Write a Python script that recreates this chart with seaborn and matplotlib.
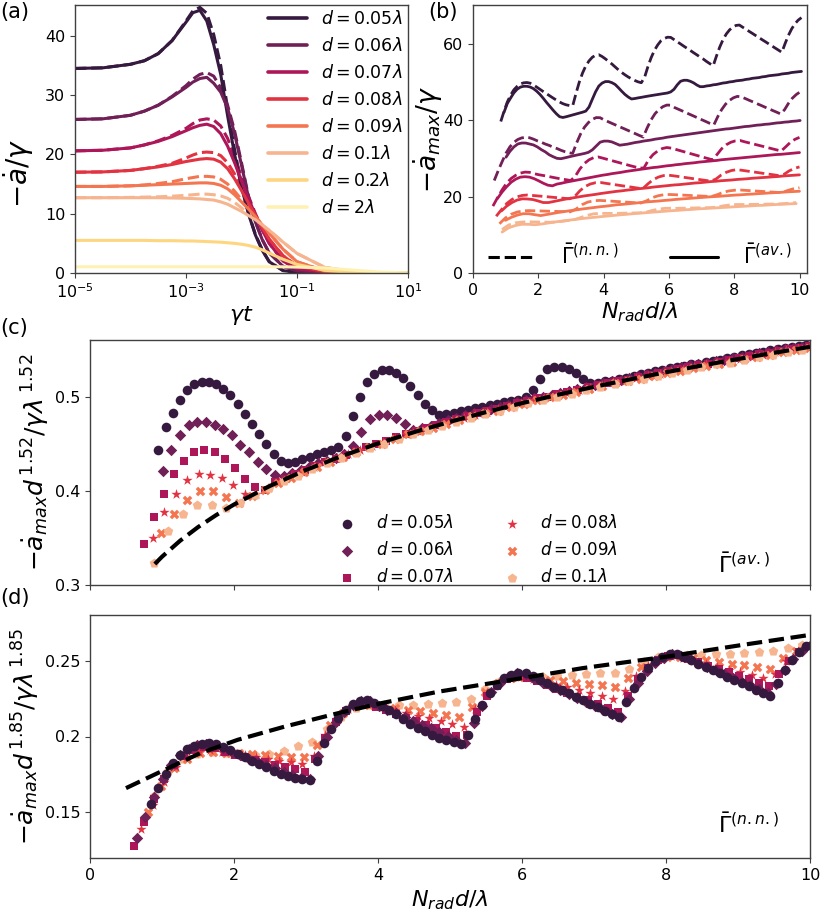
import matplotlib
matplotlib.use('Agg')
import matplotlib.pyplot as plt
import numpy as np
import seaborn as sns
from matplotlib.lines import Line2D
from matplotlib.ticker import NullLocator

# ---------------- panel (a): decay rate vs time ----------------
gamma_t = [1e-5, 3.16e-5, 1e-4, 1.78e-4, 3.16e-4, 5.62e-4, 1e-3, 1.33e-3, 1.78e-3, 2.37e-3,
           3.16e-3, 4.22e-3, 5.62e-3, 7.5e-3, 1e-2, 1.33e-2, 1.78e-2, 2.37e-2, 3.16e-2, 5.62e-2,
           0.1, 0.316, 1.0, 3.16, 10.0]

a_av_005 = [34.5, 34.6, 35.2, 35.8, 37.0, 39.2, 42.3, 43.9, 44.3, 42.5, 38.5, 33.5, 26.5, 20.0, 14.5,
            10.0, 6.4, 3.8, 1.9, 0.4, 0.1, 0.02, 0, 0, 0]
a_nn_005 = [34.5, 34.6, 35.2, 35.8, 37.0, 39.2, 42.5, 44.2, 44.8, 43.8, 40.2, 35.0, 27.8, 20.8, 14.9,
            10.2, 6.5, 3.9, 1.9, 0.4, 0.1, 0.02, 0, 0, 0]
a_av_006 = [25.9, 26.0, 26.6, 27.3, 28.3, 29.7, 31.3, 32.2, 32.8, 33.0, 32.0, 30.5, 27.8, 23.5, 18.2,
            12.8, 8.6, 5.6, 3.4, 1.1, 0.35, 0.05, 0.01, 0, 0]
a_nn_006 = [25.9, 26.0, 26.6, 27.3, 28.3, 29.8, 31.6, 32.7, 33.5, 33.8, 33.2, 31.2, 28.3, 24.0, 18.6,
            13.0, 8.7, 5.6, 3.4, 1.1, 0.35, 0.05, 0.01, 0, 0]
a_av_007 = [20.6, 20.7, 21.1, 21.6, 22.2, 23.0, 24.0, 24.5, 24.9, 25.1, 24.7, 23.5, 21.4, 18.6, 15.5,
            12.6, 9.8, 7.2, 5.0, 2.0, 0.7, 0.1, 0.02, 0, 0]
a_nn_007 = [20.6, 20.7, 21.1, 21.6, 22.3, 23.2, 24.4, 25.2, 25.8, 26.0, 25.8, 24.8, 22.7, 19.6, 16.2,
            13.0, 10.0, 7.3, 5.0, 2.0, 0.7, 0.1, 0.02, 0, 0]
a_av_008 = [17.0, 17.05, 17.3, 17.6, 17.9, 18.3, 18.8, 19.0, 19.2, 19.3, 19.2, 18.7, 17.6, 15.9, 13.9,
            11.8, 9.7, 7.6, 5.7, 2.9, 1.2, 0.2, 0.04, 0.01, 0]
a_nn_008 = [17.0, 17.05, 17.3, 17.6, 18.0, 18.5, 19.4, 19.9, 20.3, 20.4, 20.3, 19.8, 18.6, 16.7, 14.4,
            12.1, 9.9, 7.7, 5.7, 2.9, 1.2, 0.2, 0.04, 0.01, 0]
a_av_009 = [14.6, 14.6, 14.7, 14.8, 14.9, 15.0, 15.1, 15.15, 15.2, 15.2, 15.1, 14.8, 14.2, 13.2, 12.0,
            10.8, 9.5, 8.1, 6.7, 4.0, 1.9, 0.35, 0.07, 0.01, 0]
a_nn_009 = [14.6, 14.6, 14.7, 14.85, 15.1, 15.4, 15.9, 16.1, 16.3, 16.3, 16.2, 15.8, 15.0, 13.8, 12.4,
            11.0, 9.6, 8.1, 6.7, 4.0, 1.9, 0.35, 0.07, 0.01, 0]
a_av_010 = [12.7, 12.7, 12.7, 12.7, 12.7, 12.65, 12.6, 12.55, 12.5, 12.4, 12.3, 12.0, 11.6, 11.0, 10.4,
            9.7, 9.0, 8.1, 7.2, 5.2, 3.3, 0.95, 0.22, 0.05, 0.01]
a_nn_010 = [12.7, 12.7, 12.75, 12.8, 12.85, 12.95, 13.1, 13.2, 13.3, 13.3, 13.2, 13.0, 12.6, 11.9, 11.0,
            10.0, 9.1, 8.1, 7.2, 5.2, 3.3, 0.95, 0.22, 0.05, 0.01]
a_av_020 = [5.5, 5.5, 5.5, 5.5, 5.45, 5.45, 5.4, 5.4, 5.35, 5.3, 5.25, 5.2, 5.1, 5.0, 4.85,
            4.65, 4.35, 3.9, 3.35, 2.3, 1.45, 0.45, 0.1, 0.02, 0]
a_av_200 = [1.05, 1.05, 1.05, 1.05, 1.05, 1.05, 1.05, 1.05, 1.05, 1.05, 1.05, 1.05, 1.05, 1.05, 1.05,
            1.05, 1.05, 1.05, 1.05, 1.04, 1.0, 0.85, 0.5, 0.15, 0.03]

a_labels = [r'$d = 0.05\lambda$', r'$d = 0.06\lambda$', r'$d = 0.07\lambda$', r'$d = 0.08\lambda$',
            r'$d = 0.09\lambda$', r'$d = 0.1\lambda$', r'$d = 0.2\lambda$', r'$d = 2\lambda$']

# ---------------- panels (c)/(d): scaled maximum decay rate ----------------
spacings = [0.05, 0.06, 0.07, 0.08, 0.09, 0.1]

x_c_005 = [0.95, 1.05, 1.15, 1.25, 1.35, 1.45, 1.55, 1.65, 1.75, 1.85, 1.95, 2.05, 2.15, 2.25, 2.35,
           2.45, 2.55, 2.65, 2.75, 2.85, 2.95, 3.05, 3.15, 3.25, 3.35, 3.45, 3.55, 3.65, 3.75, 3.85,
           3.95, 4.05, 4.15, 4.25, 4.35, 4.45, 4.55, 4.65, 4.75, 4.85, 4.95, 5.05, 5.15, 5.25, 5.35,
           5.45, 5.55, 5.65, 5.75, 5.85, 5.95, 6.05, 6.15, 6.25, 6.35, 6.45, 6.55, 6.65, 6.75, 6.85,
           6.95, 7.05, 7.15, 7.25, 7.35, 7.45, 7.55, 7.65, 7.75, 7.85, 7.95, 8.05, 8.15, 8.25, 8.35,
           8.45, 8.55, 8.65, 8.75, 8.85, 8.95, 9.05, 9.15, 9.25, 9.35, 9.45, 9.55, 9.65, 9.75, 9.85,
           9.95, 10.05]
y_c_005 = [0.4435, 0.4677, 0.4826, 0.4968, 0.5068, 0.5128, 0.5150, 0.5150, 0.5130, 0.5085,
           0.5014, 0.4925, 0.4819, 0.4705, 0.4599, 0.4492, 0.4393, 0.4311, 0.4290, 0.4310,
           0.4335, 0.4360, 0.4385, 0.4410, 0.4435, 0.4465, 0.4577, 0.4790, 0.4996, 0.5156,
           0.5238, 0.5280, 0.5280, 0.5250, 0.5200, 0.5110, 0.5014, 0.4925, 0.4854, 0.4800,
           0.4812, 0.4830, 0.4845, 0.4862, 0.4878, 0.4893, 0.4908, 0.4922, 0.4937, 0.4951,
           0.4965, 0.4995, 0.5067, 0.5190, 0.5288, 0.5316, 0.5316, 0.5288, 0.5245, 0.5185, 0.5139,
           0.514, 0.516, 0.517, 0.519, 0.520, 0.522, 0.524, 0.525, 0.527, 0.528,
           0.530, 0.531, 0.532, 0.534, 0.535, 0.537, 0.538, 0.539, 0.541, 0.542,
           0.544, 0.545, 0.546, 0.547, 0.549, 0.550, 0.551, 0.553, 0.554, 0.555, 0.556]

x_c_006 = [1.01, 1.13, 1.25, 1.37, 1.49, 1.61, 1.73, 1.85, 1.97, 2.09, 2.21, 2.33, 2.45, 2.57, 2.69,
           2.81, 2.93, 3.05, 3.17, 3.29, 3.41, 3.53, 3.65, 3.77, 3.89, 4.01, 4.13, 4.25, 4.37, 4.49,
           4.61, 4.73, 4.85, 4.97, 5.09, 5.21, 5.33, 5.45, 5.57, 5.69, 5.81, 5.93, 6.05, 6.17, 6.29,
           6.41, 6.53, 6.65, 6.77, 6.89, 7.01, 7.13, 7.25, 7.37, 7.49, 7.61, 7.73, 7.85, 7.97, 8.09,
           8.21, 8.33, 8.45, 8.57, 8.69, 8.81, 8.93, 9.05, 9.17, 9.29, 9.41, 9.53, 9.65, 9.77, 9.89,
           10.01]
y_c_006 = [0.4215, 0.4428, 0.4588, 0.4695, 0.4730, 0.4730, 0.4695, 0.4660, 0.4588, 0.4490,
           0.4410, 0.4304, 0.4233, 0.4172, 0.4160, 0.4190, 0.4225, 0.4258, 0.4290, 0.4320,
           0.4350, 0.4390, 0.4480, 0.4620, 0.4760, 0.4800, 0.4800, 0.4770, 0.4710, 0.4650,
           0.467, 0.469, 0.472, 0.475, 0.477, 0.480, 0.482, 0.484, 0.487, 0.489,
           0.491, 0.494, 0.496, 0.498, 0.500, 0.502, 0.504, 0.506, 0.508, 0.510,
           0.512, 0.514, 0.516, 0.518, 0.520, 0.522, 0.524, 0.525, 0.527, 0.529,
           0.531, 0.533, 0.534, 0.536, 0.538, 0.539, 0.541, 0.542, 0.544, 0.546,
           0.547, 0.549, 0.550, 0.552, 0.553, 0.555]

x_c_007 = [0.75, 0.89, 1.03, 1.17, 1.31, 1.45, 1.59, 1.73, 1.87, 2.01, 2.15, 2.29, 2.43, 2.57, 2.71,
           2.85, 2.99, 3.13, 3.27, 3.41, 3.55, 3.69, 3.83, 3.97, 4.11, 4.25, 4.39, 4.53, 4.67, 4.81,
           4.95, 5.09, 5.23, 5.37, 5.51, 5.65, 5.79, 5.93, 6.07, 6.21, 6.35, 6.49, 6.63, 6.77, 6.91,
           7.05, 7.19, 7.33, 7.47, 7.61, 7.75, 7.89, 8.03, 8.17, 8.31, 8.45, 8.59, 8.73, 8.87, 9.01,
           9.15, 9.29, 9.43, 9.57, 9.71, 9.85, 9.99]
y_c_007 = [0.343, 0.3725, 0.397, 0.418, 0.432, 0.441, 0.443, 0.441, 0.434, 0.424, 0.413, 0.404, 0.401,
           0.409, 0.413, 0.418, 0.422, 0.426, 0.430, 0.434, 0.438, 0.442, 0.446,
           0.450, 0.453, 0.457, 0.460, 0.463, 0.467, 0.470, 0.473, 0.476, 0.479,
           0.482, 0.485, 0.487, 0.490, 0.493, 0.495, 0.498, 0.500, 0.503, 0.505,
           0.507, 0.510, 0.512, 0.514, 0.516, 0.518, 0.521, 0.523, 0.525, 0.527,
           0.529, 0.531, 0.533, 0.535, 0.537, 0.539, 0.541, 0.543, 0.545, 0.546,
           0.548, 0.550, 0.552, 0.554]

x_c_008 = [0.87, 1.03, 1.19, 1.35, 1.51, 1.67, 1.83, 1.99, 2.15, 2.31, 2.47, 2.63, 2.79, 2.95, 3.11,
           3.27, 3.43, 3.59, 3.75, 3.91, 4.07, 4.23, 4.39, 4.55, 4.71, 4.87, 5.03, 5.19, 5.35, 5.51,
           5.67, 5.83, 5.99, 6.15, 6.31, 6.47, 6.63, 6.79, 6.95, 7.11, 7.27, 7.43, 7.59, 7.75, 7.91,
           8.07, 8.23, 8.39, 8.55, 8.71, 8.87, 9.03, 9.19, 9.35, 9.51, 9.67, 9.83, 9.99]
y_c_008 = [0.3497, 0.377, 0.397, 0.411, 0.418, 0.417, 0.414, 0.406, 0.397, 0.397, 0.403,
           0.409, 0.415, 0.420, 0.425, 0.430, 0.435, 0.439, 0.443, 0.448, 0.452,
           0.456, 0.460, 0.463, 0.467, 0.470, 0.474, 0.477, 0.480, 0.484, 0.487,
           0.490, 0.493, 0.496, 0.498, 0.501, 0.504, 0.507, 0.509, 0.512, 0.515,
           0.517, 0.520, 0.522, 0.524, 0.527, 0.529, 0.531, 0.534, 0.536, 0.538,
           0.540, 0.542, 0.544, 0.547, 0.549, 0.551, 0.553]

x_c_009 = [0.99, 1.17, 1.35, 1.53, 1.71, 1.89, 2.07, 2.25, 2.43, 2.61, 2.79, 2.97, 3.15, 3.33, 3.51,
           3.69, 3.87, 4.05, 4.23, 4.41, 4.59, 4.77, 4.95, 5.13, 5.31, 5.49, 5.67, 5.85, 6.03, 6.21,
           6.39, 6.57, 6.75, 6.93, 7.11, 7.29, 7.47, 7.65, 7.83, 8.01, 8.19, 8.37, 8.55, 8.73, 8.91,
           9.09, 9.27, 9.45, 9.63, 9.81, 9.99]
y_c_009 = [0.355, 0.375, 0.390, 0.3995, 0.3995, 0.393,
           0.387, 0.394, 0.401, 0.408, 0.414, 0.420, 0.425, 0.431, 0.436, 0.441,
           0.446, 0.450, 0.455, 0.460, 0.463, 0.467, 0.471, 0.475, 0.479, 0.482,
           0.485, 0.489, 0.492, 0.496, 0.499, 0.502, 0.505, 0.508, 0.511, 0.514,
           0.516, 0.519, 0.522, 0.525, 0.527, 0.530, 0.532, 0.535, 0.537, 0.540,
           0.542, 0.544, 0.547, 0.549, 0.551]

x_c_010 = [0.89, 1.09, 1.29, 1.49, 1.69, 1.89, 2.09, 2.29, 2.49, 2.69, 2.89, 3.09, 3.29, 3.49, 3.69,
           3.89, 4.09, 4.29, 4.49, 4.69, 4.89, 5.09, 5.29, 5.49, 5.69, 5.89, 6.09, 6.29, 6.49, 6.69,
           6.89, 7.09, 7.29, 7.49, 7.69, 7.89, 8.09, 8.29, 8.49, 8.69, 8.89, 9.09, 9.29, 9.49, 9.69,
           9.89]
y_c_010 = [0.3238, 0.3575, 0.3753, 0.3853, 0.3853, 0.3817,
           0.387, 0.395, 0.403, 0.410, 0.416, 0.423, 0.429, 0.435, 0.440, 0.445,
           0.450, 0.455, 0.460, 0.464, 0.469, 0.473, 0.477, 0.481, 0.485, 0.489,
           0.493, 0.496, 0.500, 0.503, 0.507, 0.510, 0.513, 0.516, 0.519, 0.522,
           0.525, 0.528, 0.531, 0.534, 0.536, 0.539, 0.542, 0.544, 0.547, 0.549]

x_d_005 = [0.85] + x_c_005
y_d_005 = [0.1555, 0.166, 0.1755, 0.1825, 0.188, 0.1915, 0.194, 0.1952, 0.1955, 0.1948,
           0.193, 0.1908, 0.1885, 0.1862, 0.184, 0.1818, 0.1796, 0.1775, 0.1755, 0.1738,
           0.1726, 0.1719, 0.1715, 0.1841, 0.1957, 0.2051, 0.2125, 0.2177, 0.2214, 0.2235,
           0.224, 0.2222, 0.2198, 0.2172, 0.2145, 0.2115, 0.2085, 0.2058, 0.2034, 0.2012,
           0.1993, 0.1976, 0.1962, 0.1953, 0.2008, 0.2116, 0.2209, 0.2284, 0.234, 0.2383,
           0.2406, 0.242, 0.2418, 0.2396, 0.2373, 0.2351, 0.2328, 0.2306, 0.2284, 0.2261,
           0.2239, 0.2216, 0.2195, 0.217, 0.2148, 0.2127, 0.2227, 0.2319, 0.2395, 0.2453,
           0.2495, 0.2524, 0.2541, 0.2545, 0.2523, 0.2502, 0.248, 0.2459, 0.2437, 0.2416,
           0.2394, 0.2373, 0.2351, 0.233, 0.2308, 0.2287, 0.2265, 0.2355, 0.2438, 0.2505,
           0.2558, 0.2595, 0.2621]

x_d_006 = [0.65, 0.77, 0.89] + x_c_006
y_d_006 = [0.133, 0.147, 0.160, 0.1723, 0.1815, 0.1878, 0.192, 0.1943, 0.195, 0.1945,
           0.1925, 0.190, 0.188, 0.1855, 0.1835, 0.181, 0.179, 0.1765, 0.1745, 0.173,
           0.172, 0.187, 0.1998, 0.2096, 0.2163, 0.2209, 0.2235, 0.2233, 0.2202, 0.2177,
           0.2152, 0.2127, 0.2102, 0.2078, 0.2053, 0.2028, 0.2003, 0.1978, 0.1955, 0.2088,
           0.2203, 0.2291, 0.2351, 0.2392, 0.2415, 0.2413, 0.2379, 0.2354, 0.2329, 0.2303,
           0.2278, 0.2253, 0.2227, 0.2202, 0.2177, 0.2151, 0.213, 0.2249, 0.2351, 0.2429,
           0.2483, 0.252, 0.254, 0.2533, 0.2509, 0.2484, 0.246, 0.2435, 0.2411, 0.2386,
           0.2362, 0.2337, 0.2313, 0.2288, 0.2346, 0.2438, 0.2513, 0.2566, 0.2605]

x_d_007 = [0.61] + x_c_007
y_d_007 = [0.128, 0.144, 0.159, 0.172, 0.181, 0.187, 0.191, 0.193, 0.1925, 0.190,
           0.188, 0.1865, 0.1848, 0.1831, 0.1814, 0.1797, 0.1784, 0.1768, 0.1852, 0.199,
           0.2096, 0.2165, 0.2206, 0.222, 0.2197, 0.2173, 0.2149, 0.2125, 0.2101, 0.2077,
           0.2053, 0.203, 0.2006, 0.201, 0.2162, 0.2265, 0.2334, 0.238, 0.240, 0.2388,
           0.2363, 0.2338, 0.2313, 0.2288, 0.2263, 0.2238, 0.2213, 0.2189, 0.2164, 0.2269,
           0.2378, 0.2453, 0.2501, 0.2527, 0.2535, 0.251, 0.2488, 0.2466, 0.2444, 0.2422,
           0.2399, 0.2377, 0.2355, 0.2333, 0.2414, 0.2498, 0.2556, 0.2594]

x_d_008 = [0.71] + x_c_008
y_d_008 = [0.139, 0.155, 0.170, 0.180, 0.1865, 0.190, 0.191, 0.1898, 0.1887, 0.1875,
           0.1864, 0.1852, 0.184, 0.1829, 0.1817, 0.1871, 0.2013, 0.2118, 0.2179, 0.2211,
           0.2215, 0.2195, 0.2176, 0.2157, 0.2138, 0.2119, 0.21, 0.208, 0.2061, 0.2181,
           0.2284, 0.2348, 0.2385, 0.2395, 0.2378, 0.236, 0.2341, 0.2323, 0.2304, 0.2286,
           0.2268, 0.2249, 0.2298, 0.2397, 0.2466, 0.251, 0.253, 0.2515, 0.2496, 0.2478,
           0.246, 0.2441, 0.2423, 0.2405, 0.2386, 0.2412, 0.2498, 0.2561, 0.2598]

x_d_009 = [0.81] + x_c_009
y_d_009 = [0.150, 0.1675, 0.179, 0.1855, 0.189, 0.190, 0.1894, 0.1889, 0.1884, 0.1878,
           0.1873, 0.1868, 0.1862, 0.1944, 0.2077, 0.2158, 0.22, 0.221, 0.22, 0.2188,
           0.2176, 0.2165, 0.2153, 0.2141, 0.2129, 0.2197, 0.2295, 0.2353, 0.2385, 0.239,
           0.2382, 0.2373, 0.2364, 0.2355, 0.2346, 0.2337, 0.2328, 0.2383, 0.2455, 0.2499,
           0.2521, 0.2525, 0.2514, 0.2503, 0.2491, 0.248, 0.2468, 0.2457, 0.2445, 0.2514,
           0.2565, 0.2595]

x_d_010 = x_c_010
y_d_010 = [0.161, 0.1775, 0.1855, 0.1885, 0.1895, 0.189, 0.1885, 0.188, 0.1884, 0.1906,
           0.194, 0.1967, 0.205, 0.213, 0.219, 0.2205, 0.2205, 0.2205, 0.221, 0.2215,
           0.222, 0.2225, 0.225, 0.2315, 0.2365, 0.2395, 0.2395, 0.2395, 0.240, 0.2405,
           0.241, 0.2415, 0.242, 0.2445, 0.249, 0.2525, 0.2535, 0.2535, 0.2538, 0.254,
           0.2545, 0.255, 0.2555, 0.2565, 0.2585, 0.2605]

# fitted power laws (black dashed)
fit_c_x = [0.9, 1.0, 1.25, 1.5, 1.75, 2.0, 2.5, 3.0, 3.5, 4.0, 4.5, 5.0, 5.5, 6.0, 6.5, 7.0, 7.5,
           8.0, 8.5, 9.0, 9.5, 10.0]
fit_c_y = [0.3223, 0.330, 0.3469, 0.3614, 0.3741, 0.3854, 0.4052, 0.4221, 0.4369, 0.4502, 0.4622,
           0.4732, 0.4835, 0.4930, 0.5019, 0.5103, 0.5182, 0.5258, 0.5330, 0.5398, 0.5464, 0.5528]
fit_d_x = [0.5, 0.94, 1.53, 2.05, 2.71, 3.45, 4.04, 4.85, 6.0, 6.84, 8.01, 9.06, 10.0]
fit_d_y = [0.166, 0.1759, 0.189, 0.1978, 0.2066, 0.2154, 0.2219, 0.2296, 0.2384, 0.245, 0.2526,
           0.2603, 0.2669]

sns.set_style('ticks')
plt.rcParams.update({
    'font.family': ['DejaVu Sans'],
    'mathtext.fontset': 'dejavusans',
    'axes.edgecolor': '#404040',
    'axes.linewidth': 1.0,
    'axes.labelcolor': 'black',
    'text.color': 'black',
    'xtick.color': '#404040',
    'ytick.color': '#404040',
    'xtick.labelcolor': 'black',
    'ytick.labelcolor': 'black',
    'xtick.major.size': 3.5,
    'ytick.major.size': 3.5,
    'xtick.labelsize': 11.5,
    'ytick.labelsize': 11.5,
})

pal = sns.color_palette('rocket', 6).as_hex() + ['#fdd67f', '#fef1b3']
markers = ['o', 'D', 's', '*', 'X', 'p']
msizes = [48, 34, 38, 60, 48, 52]

fig = plt.figure(figsize=(8.31, 9.19), dpi=100)
ax_a = fig.add_axes([75 / 831, 1 - 273 / 919, 333 / 831, 268 / 919])
ax_b = fig.add_axes([473 / 831, 1 - 273 / 919, 334 / 831, 268 / 919])
ax_c = fig.add_axes([90 / 831, 1 - 585 / 919, 720 / 831, 245 / 919])
ax_d = fig.add_axes([90 / 831, 1 - 858 / 919, 720 / 831, 243 / 919])

# ---- (a)
a_av = [a_av_005, a_av_006, a_av_007, a_av_008, a_av_009, a_av_010, a_av_020, a_av_200]
a_nn = [a_nn_005, a_nn_006, a_nn_007, a_nn_008, a_nn_009, a_nn_010]
for i, vals in enumerate(a_nn):
  sns.lineplot(x=gamma_t, y=vals, ax=ax_a, color=pal[i], linewidth=2.2, linestyle='--',
               estimator=None, sort=False)
a_handles = []
for i, vals in enumerate(a_av):
  sns.lineplot(x=gamma_t, y=vals, ax=ax_a, color=pal[i], linewidth=2.2,
               estimator=None, sort=False)
  a_handles.append(Line2D([], [], color=pal[i], lw=2.6))
ax_a.set_xscale('log')
ax_a.set_xlim(1e-5, 1e1)
ax_a.set_ylim(0, 45.2)
ax_a.set_xticks([1e-5, 1e-3, 1e-1, 1e1])
ax_a.xaxis.set_minor_locator(NullLocator())
ax_a.set_yticks([0, 10, 20, 30, 40])
ax_a.set_xlabel(r'$\gamma t$', fontsize=16, labelpad=2)
ax_a.set_ylabel(r'$-\dot{a}/\gamma$', fontsize=20)
ax_a.yaxis.set_label_coords(-0.117, 0.37)
ax_a.legend(a_handles, a_labels, loc='upper right', frameon=False, fontsize=12.5,
            handlelength=2.25, handletextpad=0.8, labelspacing=0.52,
            borderaxespad=0.1, borderpad=0.2)

# ---- (b)
x_c = [x_c_005, x_c_006, x_c_007, x_c_008, x_c_009, x_c_010]
y_c = [y_c_005, y_c_006, y_c_007, y_c_008, y_c_009, y_c_010]
x_d = [x_d_005, x_d_006, x_d_007, x_d_008, x_d_009, x_d_010]
y_d = [y_d_005, y_d_006, y_d_007, y_d_008, y_d_009, y_d_010]
for i, d in enumerate(spacings):
  sns.lineplot(x=x_d[i], y=np.array(y_d[i]) / d ** 1.85, ax=ax_b, color=pal[i],
               linewidth=2.0, linestyle='--', estimator=None, sort=False)
  sns.lineplot(x=x_c[i], y=np.array(y_c[i]) / d ** 1.52, ax=ax_b, color=pal[i],
               linewidth=2.0, estimator=None, sort=False)
ax_b.set_xlim(0, 10.22)
ax_b.set_ylim(0, 70.2)
ax_b.set_xticks([0, 2, 4, 6, 8, 10])
ax_b.set_yticks([0, 20, 40, 60])
ax_b.set_xlabel(r'$N_{rad}d/\lambda$', fontsize=16, labelpad=2)
ax_b.set_ylabel(r'$-\dot{a}_{max}/\gamma$', fontsize=19)
ax_b.yaxis.set_label_coords(-0.084, 0.5)
b_handles = [Line2D([], [], color='black', lw=2.2, ls='--'),
             Line2D([], [], color='black', lw=2.2)]
ax_b.legend(b_handles, [r'$\bar{\Gamma}^{(n.n.)}$', r'$\bar{\Gamma}^{(av.)}$'],
            loc='lower center', ncol=2, frameon=False, fontsize=15, handlelength=2.3,
            handletextpad=1.2, columnspacing=2.5, borderaxespad=0.13, borderpad=0.1)

# ---- (c)
for i, d in enumerate(spacings):
  sns.scatterplot(x=x_c[i], y=y_c[i], ax=ax_c, color=pal[i], marker=markers[i], s=msizes[i],
                  linewidth=0, label=a_labels[i], legend=False)
sns.lineplot(x=fit_c_x, y=fit_c_y, ax=ax_c, color='black', linewidth=3, linestyle='--',
             estimator=None, sort=False, zorder=5)
ax_c.set_xlim(0, 10)
ax_c.set_ylim(0.3, 0.56)
ax_c.set_xticks([0, 2, 4, 6, 8, 10])
ax_c.tick_params(labelbottom=False)
ax_c.set_yticks([0.3, 0.4, 0.5])
ax_c.set_yticklabels(['0.3', '0.4', '0.5'])
ax_c.set_ylabel(r'$-\dot{a}_{max}d^{\,1.52}/\gamma\lambda^{\,1.52}$', fontsize=18)
ax_c.yaxis.set_label_coords(-0.053, 0.5)
ax_c.legend(loc='lower left', bbox_to_anchor=(0.325, -0.067), ncol=2, frameon=False,
            fontsize=12, handlelength=1.0, handletextpad=1.2, columnspacing=3.0,
            labelspacing=0.55)
ax_c.text(0.872, 0.05, r'$\bar{\Gamma}^{(av.)}$', transform=ax_c.transAxes, fontsize=16,
          ha='left', va='baseline')

# ---- (d)
for i in reversed(range(len(spacings))):
  sns.scatterplot(x=x_d[i], y=y_d[i], ax=ax_d, color=pal[i], marker=markers[i], s=msizes[i],
                  linewidth=0, legend=False)
sns.lineplot(x=fit_d_x, y=fit_d_y, ax=ax_d, color='black', linewidth=3, linestyle='--',
             estimator=None, sort=False, zorder=5)
ax_d.set_xlim(0, 10)
ax_d.set_ylim(0.12, 0.28)
ax_d.set_xticks([0, 2, 4, 6, 8, 10])
ax_d.set_yticks([0.15, 0.2, 0.25])
ax_d.set_yticklabels(['0.15', '0.2', '0.25'])
ax_d.set_xlabel(r'$N_{rad}d/\lambda$', fontsize=16)
ax_d.set_ylabel(r'$-\dot{a}_{max}d^{\,1.85}/\gamma\lambda^{\,1.85}$', fontsize=18)
ax_d.yaxis.set_label_coords(-0.066, 0.5)
ax_d.text(0.872, 0.103, r'$\bar{\Gamma}^{(n.n.)}$', transform=ax_d.transAxes, fontsize=16,
          ha='left', va='baseline')

fig.text(0.0, 1 - 2 / 919, '(a)', fontsize=15, ha='left', va='top')
fig.text(428 / 831, 1 - 2 / 919, '(b)', fontsize=15, ha='left', va='top')
fig.text(0.0, 1 - 318 / 919, '(c)', fontsize=15, ha='left', va='top')
fig.text(0.0, 1 - 588 / 919, '(d)', fontsize=15, ha='left', va='top')

fig.savefig('out.png', dpi=100)
